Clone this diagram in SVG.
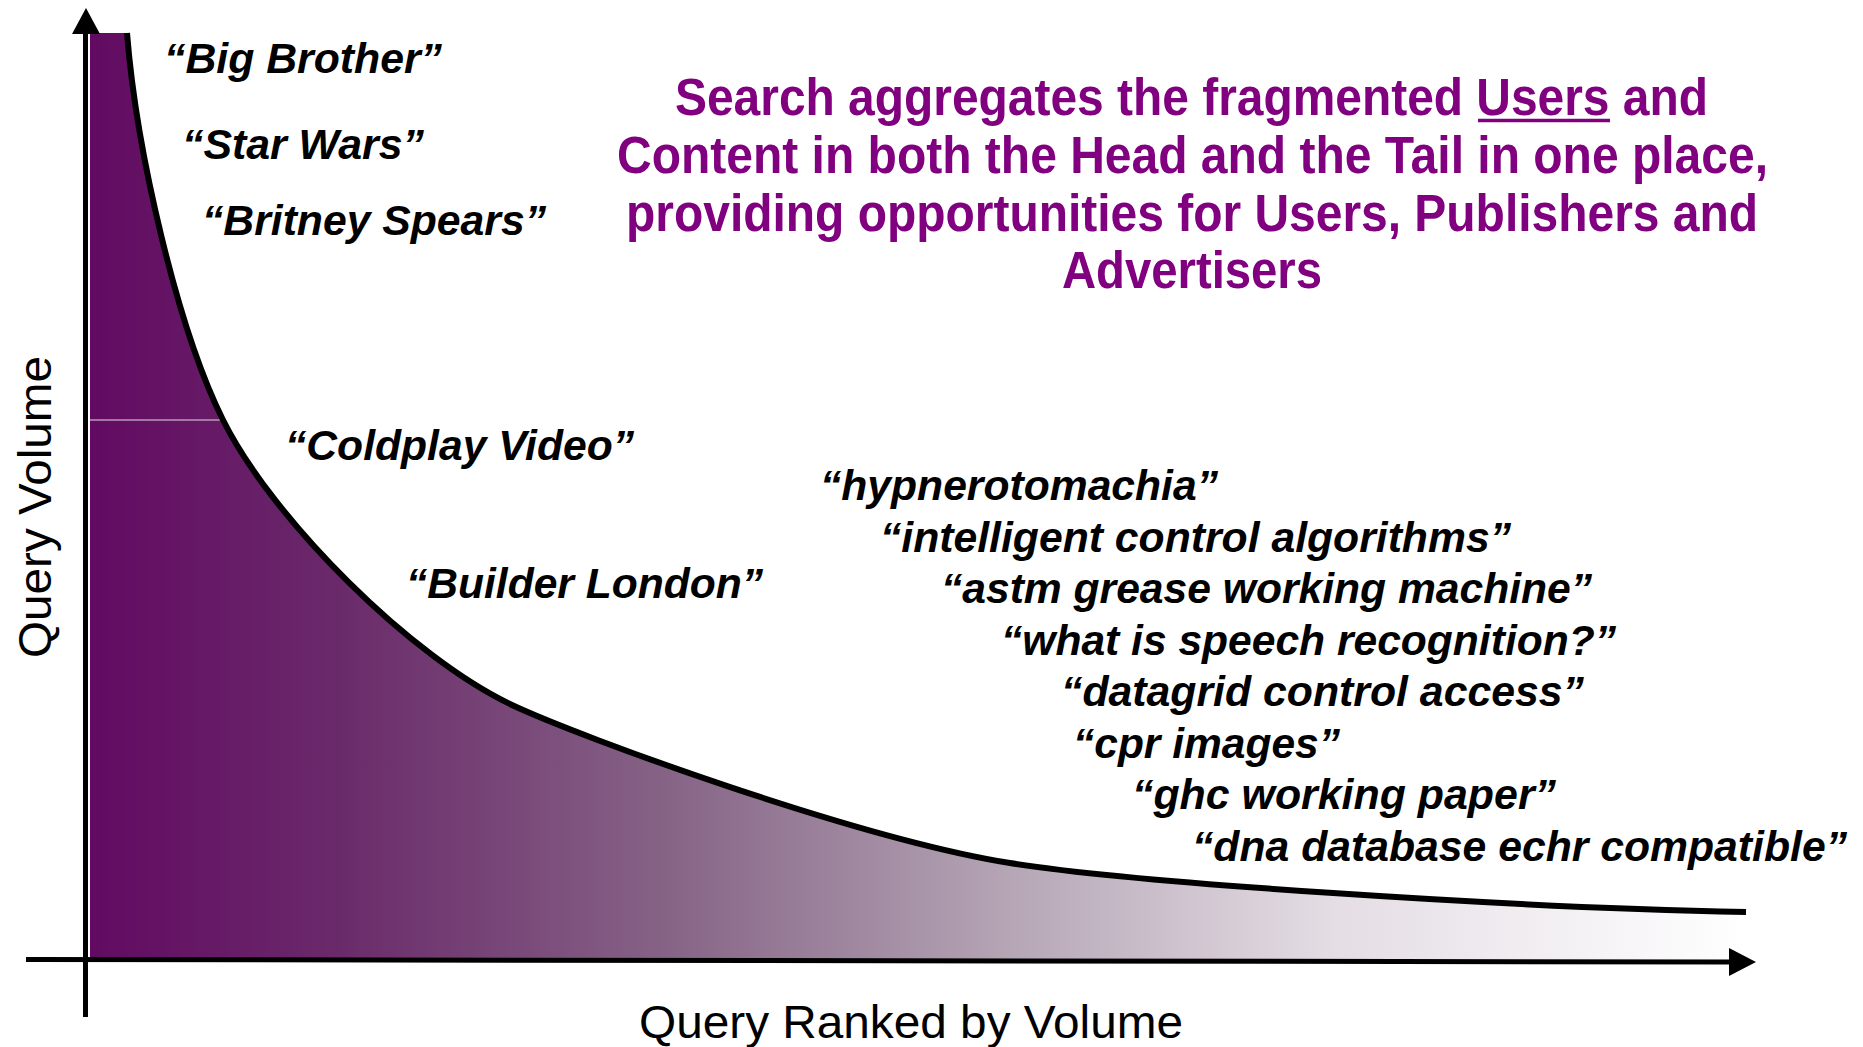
<svg xmlns="http://www.w3.org/2000/svg" width="1863" height="1047" viewBox="0 0 1863 1047">
  <style>
    .q { font-family: "Liberation Sans", Arial, sans-serif; font-weight: bold; font-style: italic; font-size: 42px; fill: #000; }
    .t { font-family: "Liberation Sans", Arial, sans-serif; font-weight: bold; font-size: 51px; fill: #800080; }
    .ax { font-family: "Liberation Sans", Arial, sans-serif; font-size: 46px; fill: #000; }
    .axis { stroke: #000; stroke-width: 5; fill: none; }
    .curve { stroke: #000; stroke-width: 6; fill: none; }
  </style>
  <defs>
    <linearGradient id="grad" gradientUnits="userSpaceOnUse" x1="90" y1="0" x2="1746" y2="0">
      <stop offset="0" stop-color="#620a62"/>
      <stop offset="0.15" stop-color="#6a2a6a"/>
      <stop offset="0.35" stop-color="#866486"/>
      <stop offset="0.55" stop-color="#b4a4b4"/>
      <stop offset="0.75" stop-color="#e4dde4"/>
      <stop offset="1" stop-color="#ffffff"/>
    </linearGradient>
  </defs>
  <rect width="1863" height="1047" fill="#fff"/>

  <g id="area">
    <path d="M90,33 L127,33 C136.6,153 178,330 223,420 C273,520 412,658 512,705 C582,737.9 860,839 1010,863 C1130,882.2 1496,907 1746,912 L1746,959 L90,959 Z" fill="url(#grad)"/>
    <line x1="90" y1="420" x2="221" y2="420" stroke="#b89ab8" stroke-width="1.5"/>
  </g>

  <g id="connectors">
    <path id="curve" class="curve" d="M127,33 C136.6,153 178,330 223,420 C273,520 412,658 512,705 C582,737.9 860,839 1010,863 C1130,882.2 1496,907 1746,912"/>
    <line id="y-axis" x1="85.5" y1="1017" x2="85.5" y2="30" class="axis"/>
    <polygon points="86,8 72,34 100,34" fill="#000"/>
    <line id="x-axis" x1="26" y1="959.5" x2="1732" y2="962" class="axis"/>
    <polygon points="1756,962 1729,948 1729,976" fill="#000"/>
  </g>

  <g id="head-labels">
    <text class="q" x="164" y="73" textLength="278" lengthAdjust="spacingAndGlyphs">“Big Brother”</text>
    <text class="q" x="182" y="159" textLength="242" lengthAdjust="spacingAndGlyphs">“Star Wars”</text>
    <text class="q" x="202" y="235" textLength="344" lengthAdjust="spacingAndGlyphs">“Britney Spears”</text>
    <text class="q" x="285" y="460" textLength="349" lengthAdjust="spacingAndGlyphs">“Coldplay Video”</text>
    <text class="q" x="406" y="598" textLength="357" lengthAdjust="spacingAndGlyphs">“Builder London”</text>
  </g>

  <g id="tail-labels">
    <text class="q" x="820" y="500" textLength="398" lengthAdjust="spacingAndGlyphs">“hypnerotomachia”</text>
    <text class="q" x="880" y="551.5" textLength="631" lengthAdjust="spacingAndGlyphs">“intelligent control algorithms”</text>
    <text class="q" x="941" y="603" textLength="651" lengthAdjust="spacingAndGlyphs">“astm grease working machine”</text>
    <text class="q" x="1001" y="654.5" textLength="615" lengthAdjust="spacingAndGlyphs">“what is speech recognition?”</text>
    <text class="q" x="1061" y="706" textLength="523" lengthAdjust="spacingAndGlyphs">“datagrid control access”</text>
    <text class="q" x="1073" y="757.5" textLength="267" lengthAdjust="spacingAndGlyphs">“cpr images”</text>
    <text class="q" x="1132" y="809" textLength="424" lengthAdjust="spacingAndGlyphs">“ghc working paper”</text>
    <text class="q" x="1192" y="860.5" textLength="655" lengthAdjust="spacingAndGlyphs">“dna database echr compatible”</text>
  </g>

  <g id="title">
    <text class="t" x="675" y="115" textLength="1033" lengthAdjust="spacingAndGlyphs">Search aggregates the fragmented Users and</text>
    <line x1="1478" y1="120.5" x2="1610" y2="120.5" stroke="#800080" stroke-width="3.5"/>
    <text class="t" x="617" y="173" textLength="1151" lengthAdjust="spacingAndGlyphs">Content in both the Head and the Tail in one place,</text>
    <text class="t" x="626" y="230.5" textLength="1132" lengthAdjust="spacingAndGlyphs">providing opportunities for Users, Publishers and</text>
    <text class="t" x="1062" y="288" textLength="260" lengthAdjust="spacingAndGlyphs">Advertisers</text>
  </g>

  <g id="axis-labels">
    <text class="ax" transform="translate(51,507) rotate(-90)" text-anchor="middle" textLength="302" lengthAdjust="spacingAndGlyphs">Query Volume</text>
    <text class="ax" x="639" y="1038" textLength="544" lengthAdjust="spacingAndGlyphs">Query Ranked by Volume</text>
  </g>
</svg>
